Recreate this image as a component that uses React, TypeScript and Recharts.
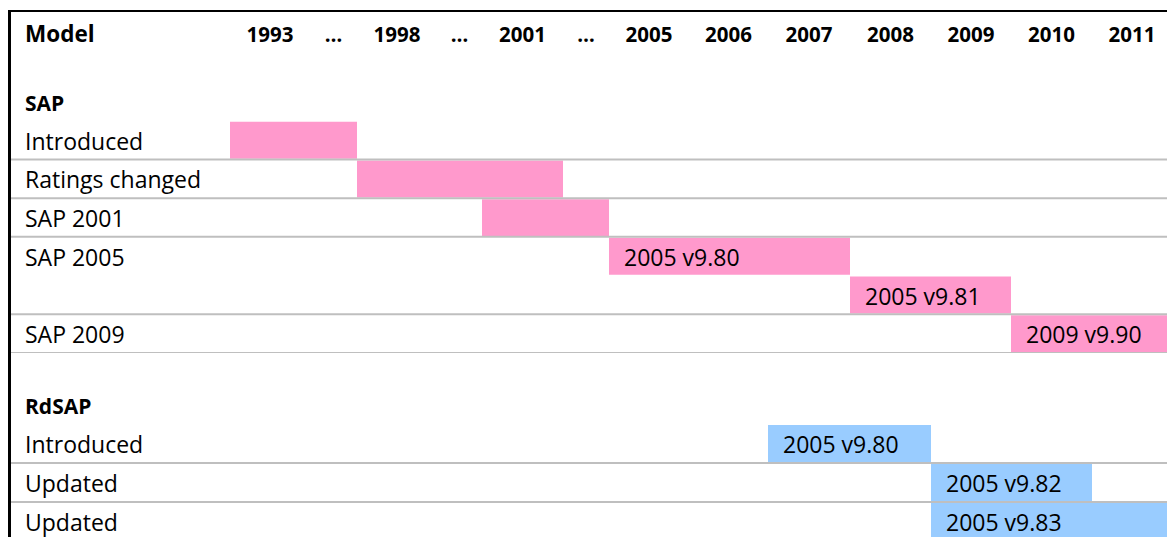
import { Bar, BarChart, Cell, LabelList, XAxis, YAxis } from "recharts";

// table columns (header row)
const columns = ["Model", "1993", "…", "1998", "…", "2001", "…", "2005", "2006", "2007", "2008", "2009", "2010", "2011"];

// SAP block: bar runs from start column up to (not including) end column
const sapLabels = ["SAP", "Introduced", "Ratings changed", "SAP 2001", "SAP 2005", "", "SAP 2009"];
const sapStart = [null, 1, 3, 5, 7, 10, 12];
const sapEnd = [null, 3, 6, 7, 10, 12, 14];
const sapText = ["", "", "", "", "2005 v9.80", "2005 v9.81", "2009 v9.90"];

// RdSAP block
const rdsapLabels = ["RdSAP", "Introduced", "Updated", "Updated"];
const rdsapStart = [null, 9, 11, 11];
const rdsapEnd = [null, 11, 13, 14];
const rdsapText = ["", "2005 v9.80", "2005 v9.82", "2005 v9.83"];

// layout
const COL_WIDTHS = [219, 80, 47, 80, 45, 81, 46, 80, 79, 82, 81, 80, 81, 80];
const CHART_W = COL_WIDTHS.reduce((a, b) => a + b, 0);
const FONT = "'Open Sans', 'Noto Sans', sans-serif";
const PINK = "#ff99cc";
const BLUE = "#99ccff";
const RULE = "#bfbfbf";
const LABEL_X = 14;
const HEADER_H = 70;
const ROW_A = 271 / 7;
const GAP_B = 32;
const ROW_B = 39;
const TEXT_SIZE = 23;
const BOLD_SIZE = 21;

const edges = COL_WIDTHS.reduce<number[]>((acc, w) => [...acc, acc[acc.length - 1] + w], [0]);
const centers = COL_WIDTHS.map((w, i) => edges[i] + w / 2);

const buildRows = (labels: string[], starts: (number | null)[], ends: (number | null)[], texts: string[]) =>
  labels.map((label, i) => {
    const s = starts[i];
    const e = ends[i];
    return {
      key: `r${i}`,
      label,
      offset: s == null ? null : edges[s],
      span: s == null || e == null ? null : edges[e] - edges[s],
      text: texts[i],
    };
  });

const sapRows = buildRows(sapLabels, sapStart, sapEnd, sapText);
const rdsapRows = buildRows(rdsapLabels, rdsapStart, rdsapEnd, rdsapText);

const HeaderTick = (props: any) => {
  const { x, payload } = props;
  const idx = centers.indexOf(payload.value);
  const first = idx === 0;
  return (
    <text
      x={first ? LABEL_X : x}
      y={29.5}
      textAnchor={first ? "start" : "middle"}
      fontFamily={FONT}
      fontSize={first ? 22.5 : 20.5}
      fontWeight={700}
      fill="#000"
    >
      {columns[idx]}
    </text>
  );
};

const makeRowTick = (rows: any[], rowH: number, ruled: number[], headings: number[]) => (props: any) => {
  const { y, payload } = props;
  const index = rows.findIndex((r) => r.key === payload.value);
  const row = rows[index];
  if (!row) return <g />;
  const bold = headings.includes(index);
  return (
    <g>
      {ruled.includes(index) && (
        <line x1={0} x2={CHART_W} y1={y + rowH / 2} y2={y + rowH / 2} stroke={RULE} strokeWidth={2} />
      )}
      <text
        x={LABEL_X}
        y={y + 9.5}
        fontFamily={FONT}
        fontSize={bold ? BOLD_SIZE : TEXT_SIZE}
        fontWeight={bold ? 700 : 400}
        fill="#000"
      >
        {row.label}
      </text>
    </g>
  );
};

const BarText = (props: any) => {
  const vb = props.viewBox ?? props;
  const { value } = props;
  if (!value) return null;
  return (
    <text x={vb.x + 15} y={vb.y + vb.height / 2 + 9.5} fontFamily={FONT} fontSize={TEXT_SIZE} fill="#000">
      {value}
    </text>
  );
};

function Block({ rows, color, height, top, rowH, ruled, showHeader }: any) {
  return (
    <BarChart
      width={CHART_W}
      height={height}
      data={rows}
      layout="vertical"
      margin={{ top, right: 0, bottom: 0, left: 0 }}
      barCategoryGap={1}
      style={{ display: "block" }}
    >
      <XAxis
        type="number"
        orientation="top"
        domain={[0, CHART_W]}
        ticks={centers}
        interval={0}
        hide={!showHeader}
        height={HEADER_H}
        axisLine={false}
        tickLine={false}
        tick={<HeaderTick />}
      />
      <YAxis
        type="category"
        dataKey="key"
        mirror
        axisLine={false}
        tickLine={false}
        interval={0}
        tick={makeRowTick(rows, rowH, ruled, [0])}
      />
      <Bar dataKey="offset" stackId="a" fill="transparent" isAnimationActive={false} />
      <Bar dataKey="span" stackId="a" isAnimationActive={false}>
        {rows.map((r: any) => (
          <Cell key={r.key} fill={color} />
        ))}
        <LabelList dataKey="text" content={<BarText />} />
      </Bar>
    </BarChart>
  );
}

export default function App() {
  return (
    <div
      style={{
        position: "fixed",
        left: 8,
        top: 10,
        width: 1159,
        height: 527,
        boxSizing: "border-box",
        overflow: "hidden",
        borderTop: "2px solid #000",
        borderLeft: "3px solid #000",
        background: "#fff",
      }}
    >
      <Block
        rows={sapRows}
        color={PINK}
        height={HEADER_H + 271}
        top={0}
        rowH={ROW_A}
        ruled={[1, 2, 3, 5, 6]}
        showHeader
      />
      <Block
        rows={rdsapRows}
        color={BLUE}
        height={GAP_B + ROW_B * 4}
        top={GAP_B}
        rowH={ROW_B}
        ruled={[1, 2]}
        showHeader={false}
      />
    </div>
  );
}
